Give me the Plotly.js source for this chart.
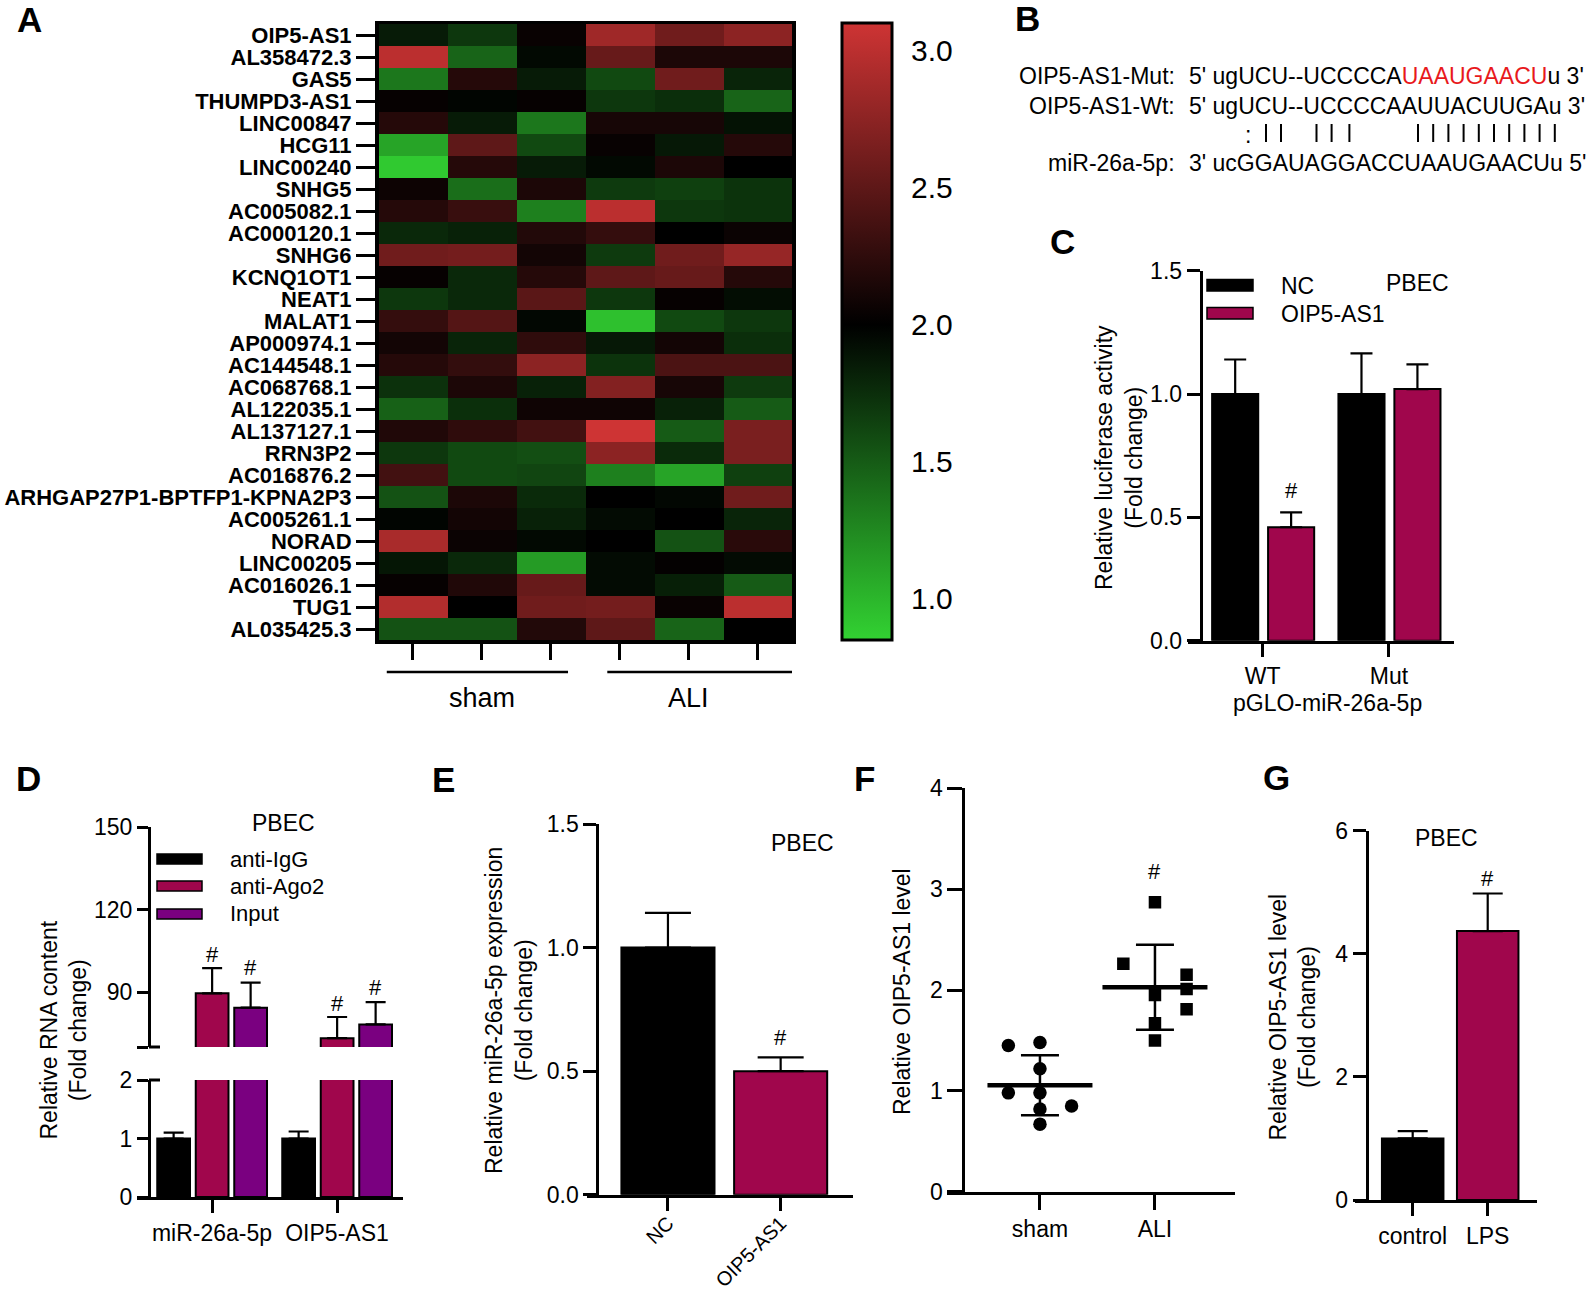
<!DOCTYPE html>
<html><head><meta charset="utf-8">
<script src="https://cdn.plot.ly/plotly-3.0.1.min.js"></script>
<style>body{margin:0;background:#fff}#chart{width:1594px;height:1300px}</style>
</head><body><div id="chart"></div>
<script>
// ---------------- DATA ----------------
// Panel A: lncRNA expression heatmap (rows top -> bottom)
const genes = ['OIP5-AS1','AL358472.3','GAS5','THUMPD3-AS1','LINC00847','HCG11','LINC00240','SNHG5',
 'AC005082.1','AC000120.1','SNHG6','KCNQ1OT1','NEAT1','MALAT1','AP000974.1','AC144548.1','AC068768.1',
 'AL122035.1','AL137127.1','RRN3P2','AC016876.2','ARHGAP27P1-BPTFP1-KPNA2P3','AC005261.1','NORAD',
 'LINC00205','AC016026.1','TUG1','AL035425.3'];
const sham1 = [1.85,3.00,1.35,2.03,2.20,1.10,0.90,2.07,2.20,1.78,2.60,2.03,1.70,2.28,2.10,2.20,1.73,1.47,2.17,1.70,2.35,1.55,1.97,2.90,1.88,2.03,2.95,1.55];
const sham2 = [1.70,1.45,2.20,1.97,1.85,2.50,2.20,1.40,2.30,1.82,2.62,1.78,1.78,2.45,1.80,2.27,2.15,1.74,2.25,1.60,1.60,2.15,2.10,2.06,1.78,2.17,2.00,1.55];
const sham3 = [2.05,1.95,1.85,2.03,1.35,1.60,1.85,2.15,1.30,2.18,2.10,2.20,2.48,1.96,2.25,2.75,1.82,2.08,2.35,1.57,1.62,1.77,1.82,1.95,1.15,2.55,2.60,2.18];
const ali1  = [2.85,2.55,1.60,1.70,2.12,2.04,1.95,1.68,3.00,2.28,1.68,2.50,1.70,0.95,1.87,1.72,2.70,2.08,3.10,2.75,1.30,2.00,1.94,2.00,1.94,1.94,2.62,2.50];
const ali2  = [2.60,2.15,2.60,1.75,2.12,1.87,2.15,1.65,1.70,2.00,2.60,2.55,2.03,1.60,2.10,2.40,2.12,1.82,1.50,1.77,1.10,1.96,2.00,1.55,2.02,1.83,2.05,1.45];
const ali3  = [2.75,2.15,1.80,1.45,1.90,2.20,2.00,1.72,1.72,2.06,2.80,2.20,1.93,1.70,1.75,2.40,1.68,1.50,2.65,2.65,1.65,2.60,1.80,2.22,1.94,1.50,3.00,2.00];
const heatGroups = ['sham','ALI'];
const heatTicks = [1.0,1.5,2.0,2.5,3.0];

// Panel C: luciferase
const cCats = ['WT','Mut'];
const cNC = [1.00,1.00],   cNCerr = [0.14,0.165];
const cOIP = [0.46,1.02],  cOIPerr = [0.06,0.10];

// Panel D: RIP
const dCats = ['miR-26a-5p','OIP5-AS1'];
const dIgG = [1.0,1.0],     dIgGerr = [0.10,0.12];
const dAgo2 = [89.5,73.2],  dAgo2err = [9.2,7.7];
const dInput = [84.3,78.2], dInputerr = [9.1,8.1];

// Panel E
const eCats = ['NC','OIP5-AS1'];
const eVals = [1.00,0.50], eErr = [0.14,0.056];

// Panel F: dot plot
const fCats = ['sham','ALI'];
const fSham = [1.45,1.48,1.22,0.98,0.98,0.85,0.82,0.67];
const fShamSlot = [-1,0,0,-1,0,1,0,0];
const fAli = [2.87,2.26,2.15,2.01,1.95,1.81,1.67,1.50];
const fAliSlot = [0,-1,1,1,0,1,0,0];

// Panel G
const gCats = ['control','LPS'];
const gVals = [1.00,4.37], gErr = [0.12,0.61];

// ---------------- LAYOUT HELPERS ----------------
const W = 1594, H = 1300;
const FONT = 'Liberation Sans, Arial, Helvetica, sans-serif';
const NARROW = 'Liberation Sans Narrow, Arial Narrow, Liberation Sans, Arial, sans-serif';
const CRIMSON = '#a0064c', PURPLE = '#7a0080';
const px = x => x / W, py = y => 1 - y / H;
const xdom = (a, b) => [a / W, b / W];
const ydom = (top, bot) => [1 - bot / H, 1 - top / H];

const axBase = {
  showline: true, linewidth: 3, linecolor: 'black', ticks: 'outside', ticklen: 13, tickwidth: 3,
  tickcolor: 'black', showgrid: false, zeroline: false, fixedrange: true, automargin: false,
  tickfont: {family: FONT, size: 23, color: 'black'}
};
const ax = o => Object.assign({}, axBase, o);

function ann(text, x, y, o = {}) {
  const f = Object.assign({family: FONT, size: 23, color: 'black'}, o.font || {});
  const a = Object.assign({xref: 'paper', yref: 'paper', x: px(x), y: py(y), text: text, showarrow: false,
    xanchor: 'center', yanchor: 'middle'}, o);
  a.font = f;
  return a;
}
function dataAnn(text, xa, ya, x, y, yshift, size) {
  return {xref: xa, yref: ya, x: x, y: y, text: text, showarrow: false, xanchor: 'center', yanchor: 'middle',
    yshift: yshift, font: {family: FONT, size: size || 22, color: 'black'}};
}
function rect(x0, y0, x1, y1, fill) {
  return {type: 'rect', xref: 'paper', yref: 'paper', x0: px(x0), x1: px(x1), y0: py(y0), y1: py(y1),
    fillcolor: fill, line: {color: 'black', width: 1.5}};
}
function hline(x0, x1, y, w) {
  return {type: 'line', xref: 'paper', yref: 'paper', x0: px(x0), x1: px(x1), y0: py(y), y1: py(y),
    line: {color: 'black', width: w || 3}};
}
function bar(name, xs, ys, errs, color, xa, ya, offset, width, cap) {
  return {type: 'bar', name: name, x: xs, y: ys, xaxis: xa, yaxis: ya, offset: offset, width: width,
    marker: {color: color, line: {color: 'black', width: 2}},
    error_y: {type: 'data', symmetric: false, array: errs, arrayminus: errs.map(() => 0),
      color: 'black', thickness: 2.2, width: cap || 11},
    showlegend: false, hoverinfo: 'skip', cliponaxis: true};
}

const traces = [];
const shapes = [];
const annotations = [];

// ---------------- PANEL A: HEATMAP ----------------
const z = genes.map((g, i) => [sham1[i], sham2[i], sham3[i], ali1[i], ali2[i], ali3[i]]);
traces.push({
  type: 'heatmap', z: z, x: [0,1,2,3,4,5], y: genes, xaxis: 'x', yaxis: 'y', zmin: 0.85, zmax: 3.1,
  colorscale: [[0, 'rgb(50,210,50)'], [0.511, 'rgb(0,0,0)'], [1, 'rgb(206,52,52)']],
  hoverinfo: 'skip', xgap: 0, ygap: 0,
  colorbar: {x: px(842), xref: 'paper', xanchor: 'left', y: py(23), yref: 'paper', yanchor: 'top',
    len: 617, lenmode: 'pixels', thickness: 50, thicknessmode: 'pixels', outlinewidth: 3, outlinecolor: 'black',
    xpad: 0, ypad: 0, tickvals: heatTicks, ticktext: heatTicks.map(v => v.toFixed(1)),
    ticks: 'outside', ticklen: 12, tickwidth: 1, tickcolor: 'rgba(0,0,0,0)',
    tickfont: {family: FONT, size: 30, color: 'black'}}
});
// inner colourbar tick marks on both edges
heatTicks.forEach(v => {
  const yy = 23 + (3.1 - v) / (3.1 - 0.85) * 617;
  [[843, 852], [882, 891]].forEach(([a, b]) =>
    shapes.push({type: 'line', xref: 'paper', yref: 'paper', x0: px(a), x1: px(b), y0: py(yy), y1: py(yy),
      line: {color: 'black', width: 3}}));
});
// group bars under heatmap
shapes.push({type: 'line', xref: 'x', yref: 'paper', x0: -0.38, x1: 2.25, y0: py(672), y1: py(672), line: {color: 'black', width: 2.5}});
shapes.push({type: 'line', xref: 'x', yref: 'paper', x0: 2.82, x1: 5.6, y0: py(672), y1: py(672), line: {color: 'black', width: 2.5}});
annotations.push({xref: 'x', yref: 'paper', x: 1, y: py(698), text: heatGroups[0], showarrow: false,
  font: {family: FONT, size: 27, color: 'black'}, xanchor: 'center', yanchor: 'middle'});
annotations.push({xref: 'x', yref: 'paper', x: 4, y: py(698), text: heatGroups[1], showarrow: false,
  font: {family: FONT, size: 27, color: 'black'}, xanchor: 'center', yanchor: 'middle'});

// ---------------- PANEL B: sequences ----------------
const bFont = {size: 23};
annotations.push(ann('OIP5-AS1-Mut:', 1177, 76, {xanchor: 'right', font: bFont}));
annotations.push(ann('OIP5-AS1-Wt:', 1177, 106, {xanchor: 'right', font: bFont}));
annotations.push(ann('miR-26a-5p:', 1177, 163, {xanchor: 'right', font: bFont}));
annotations.push(ann("5' ugUCU--UCCCCA<span style=\"color:#e8191c\">UAAUGAACU</span>u 3'", 1187, 76, {xanchor: 'left', font: bFont}));
annotations.push(ann("5' ugUCU--UCCCCAAUUACUUGAu 3'", 1187, 106, {xanchor: 'left', font: bFont}));
annotations.push(ann("3' ucGGAUAGGACCUAAUGAACUu 5'", 1187, 163, {xanchor: 'left', font: bFont}));
annotations.push(ann(':', 1248, 135, {font: bFont}));
const pairX = [1266, 1281, 1316.5, 1331.6, 1349.4];
for (let i = 0; i < 10; i++) pairX.push(1418 + i * 15.2);
pairX.forEach(x => shapes.push({type: 'line', xref: 'paper', yref: 'paper', x0: px(x), x1: px(x),
  y0: py(124), y1: py(142), line: {color: 'black', width: 2}}));

// ---------------- PANEL C ----------------
traces.push(bar('NC', cCats, cNC, cNCerr, 'black', 'x2', 'y2', -0.40, 0.365));
traces.push(bar('OIP5-AS1', cCats, cOIP, cOIPerr, CRIMSON, 'x2', 'y2', 0.043, 0.365));
annotations.push(dataAnn('#', 'x2', 'y2', 0.2255, cOIP[0] + cOIPerr[0], 22));
shapes.push(rect(1207, 279.5, 1253, 291, 'black'));
shapes.push(rect(1207, 307.5, 1253, 319, CRIMSON));
annotations.push(ann('NC', 1279, 286, {xanchor: 'left'}));
annotations.push(ann('OIP5-AS1', 1279, 314, {xanchor: 'left'}));
annotations.push(ann('PBEC', 1417, 283, {font: {family: NARROW, size: 23}}));
annotations.push(ann('Relative luciferase activity<br>(Fold change)', 1119, 458, {textangle: -90}));
annotations.push(ann('pGLO-miR-26a-5p', 1327, 703));

// ---------------- PANEL D ----------------
const dOff = [-0.438, -0.13, 0.178], dW = 0.262;
['y3', 'y4'].forEach(ya => {
  traces.push(bar('anti-IgG', dCats, dIgG, dIgGerr, 'black', 'x3', ya, dOff[0], dW, 10));
  traces.push(bar('anti-Ago2', dCats, dAgo2, dAgo2err, CRIMSON, 'x3', ya, dOff[1], dW, 10));
  traces.push(bar('Input', dCats, dInput, dInputerr, PURPLE, 'x3', ya, dOff[2], dW, 10));
});
[0, 1].forEach(i => {
  annotations.push(dataAnn('#', 'x3', 'y4', i + dOff[1] + dW / 2, dAgo2[i] + dAgo2err[i], 14));
  annotations.push(dataAnn('#', 'x3', 'y4', i + dOff[2] + dW / 2, dInput[i] + dInputerr[i], 15));
});
shapes.push(hline(149, 160, 1047, 3));
shapes.push(hline(149, 160, 1080, 3));
shapes.push(rect(157, 854, 202, 864, 'black'));
shapes.push(rect(157, 881, 202, 891, CRIMSON));
shapes.push(rect(157, 909, 202, 919, PURPLE));
annotations.push(ann('anti-IgG', 228, 859, {xanchor: 'left', font: {size: 22}}));
annotations.push(ann('anti-Ago2', 228, 886, {xanchor: 'left', font: {size: 22}}));
annotations.push(ann('Input', 228, 913, {xanchor: 'left', font: {size: 22}}));
annotations.push(ann('PBEC', 283, 823, {font: {family: NARROW, size: 23}}));
annotations.push(ann('Relative RNA content<br>(Fold change)', 63.5, 1030, {textangle: -90}));

// ---------------- PANEL E ----------------
traces.push({type: 'bar', name: 'miR-26a-5p', x: eCats, y: eVals, xaxis: 'x5', yaxis: 'y5', offset: -0.413, width: 0.826,
  marker: {color: ['black', CRIMSON], line: {color: 'black', width: 2}},
  error_y: {type: 'data', symmetric: false, array: eErr, arrayminus: eErr.map(() => 0), color: 'black', thickness: 2.2, width: 23},
  showlegend: false, hoverinfo: 'skip'});
annotations.push(dataAnn('#', 'x5', 'y5', 1, eVals[1] + eErr[1], 20));
annotations.push(ann('PBEC', 802, 843, {font: {family: NARROW, size: 23}}));
annotations.push(ann('Relative miR-26a-5p expression<br>(Fold change)', 509, 1011, {textangle: -90}));

// ---------------- PANEL F ----------------
const mean = a => a.reduce((s, v) => s + v, 0) / a.length;
const sd = a => { const m = mean(a); return Math.sqrt(a.reduce((s, v) => s + (v - m) * (v - m), 0) / (a.length - 1)); };
const SLOT = 0.275;
traces.push({type: 'scatter', mode: 'markers', x: [0, 1], y: [mean(fSham), mean(fAli)], xaxis: 'x6', yaxis: 'y6',
  marker: {symbol: 'line-ew-open', size: 75, color: 'black', line: {color: 'black', width: 4.5}},
  error_y: {type: 'data', array: [sd(fSham), sd(fAli)], color: 'black', thickness: 2.5, width: 19},
  showlegend: false, hoverinfo: 'skip', cliponaxis: false});
traces.push({type: 'scatter', mode: 'markers', name: 'sham', x: fShamSlot.map(s => 0 + s * SLOT), y: fSham,
  xaxis: 'x6', yaxis: 'y6', marker: {symbol: 'circle', size: 13.5, color: 'black'}, showlegend: false, hoverinfo: 'skip'});
traces.push({type: 'scatter', mode: 'markers', name: 'ALI', x: fAliSlot.map(s => 1 + s * SLOT), y: fAli,
  xaxis: 'x6', yaxis: 'y6', marker: {symbol: 'square', size: 12.5, color: 'black'}, showlegend: false, hoverinfo: 'skip'});
annotations.push(dataAnn('#', 'x6', 'y6', 1, Math.max(...fAli), 31));
annotations.push(ann('Relative OIP5-AS1 level', 902, 991, {textangle: -90}));

// ---------------- PANEL G ----------------
traces.push({type: 'bar', name: 'OIP5-AS1', x: gCats, y: gVals, xaxis: 'x7', yaxis: 'y7', offset: -0.41, width: 0.82,
  marker: {color: ['black', CRIMSON], line: {color: 'black', width: 2}},
  error_y: {type: 'data', symmetric: false, array: gErr, arrayminus: gErr.map(() => 0), color: 'black', thickness: 2.2, width: 15},
  showlegend: false, hoverinfo: 'skip'});
annotations.push(dataAnn('#', 'x7', 'y7', 1, gVals[1] + gErr[1], 15));
annotations.push(ann('PBEC', 1446, 838, {font: {family: NARROW, size: 23}}));
annotations.push(ann('Relative OIP5-AS1 level<br>(Fold change)', 1292.5, 1017, {textangle: -90}));

// ---------------- PANEL LETTERS ----------------
const letterFont = {family: FONT, size: 35, weight: 'bold'};
[['A', 30, 20], ['B', 1027, 19], ['C', 1062, 242], ['D', 28, 778], ['E', 443, 779], ['F', 864, 778], ['G', 1276, 777]]
  .forEach(([t, x, y]) => annotations.push(ann(t, x, y, {font: letterFont})));

// ---------------- LAYOUT ----------------
const layout = {
  width: W, height: H, margin: {l: 0, r: 0, t: 0, b: 0}, paper_bgcolor: 'white', plot_bgcolor: 'rgba(0,0,0,0)',
  showlegend: false, hovermode: false, barmode: 'overlay', font: {family: FONT, color: 'black'},
  // A
  xaxis: ax({domain: xdom(378.5, 792), anchor: 'y', range: [-0.5, 5.5], tickvals: [0,1,2,3,4,5], ticktext: ['','','','','',''],
    ticklen: 16, mirror: true, linewidth: 3.5}),
  yaxis: ax({domain: ydom(24, 640), anchor: 'x', type: 'category', autorange: 'reversed', ticklen: 19, mirror: true, linewidth: 3.5,
    tickmode: 'array', tickvals: genes, ticktext: genes,
    tickfont: {family: FONT, size: 22, weight: 'bold', color: 'black'}}),
  // C
  xaxis2: ax({domain: xdom(1188, 1454), anchor: 'y2', type: 'category', range: [-0.591, 1.515]}),
  yaxis2: ax({domain: ydom(270.7, 640.7), anchor: 'free', position: px(1200.7), range: [0, 1.5],
    tickvals: [0, 0.5, 1, 1.5], ticktext: ['0.0', '0.5', '1.0', '1.5']}),
  // D
  xaxis3: ax({domain: xdom(137, 403), anchor: 'y3', type: 'category', range: [-0.6, 1.528]}),
  yaxis3: ax({domain: ydom(1080, 1197), anchor: 'free', position: px(149), range: [0, 2], tickvals: [0, 1, 2], ticklen: 11}),
  yaxis4: ax({domain: ydom(827, 1047), anchor: 'free', position: px(149), range: [70, 150],
    tickvals: [70, 90, 120, 150], ticktext: ['', '90', '120', '150'], ticklen: 11}),
  // E
  xaxis5: ax({domain: xdom(586.7, 853), anchor: 'y5', type: 'category', range: [-0.721, 1.642], tickangle: -45,
    ticklabelstandoff: -7, tickfont: {family: FONT, size: 20, color: 'black'}}),
  yaxis5: ax({domain: ydom(824, 1194.7), anchor: 'free', position: px(597.3), range: [0, 1.5],
    tickvals: [0, 0.5, 1, 1.5], ticktext: ['0.0', '0.5', '1.0', '1.5']}),
  // F
  xaxis6: ax({domain: xdom(946.7, 1235), anchor: 'y6', range: [-0.811, 1.696], tickvals: [0, 1], ticktext: fCats, ticklen: 15}),
  yaxis6: ax({domain: ydom(788.3, 1191.7), anchor: 'free', position: px(963.3), range: [0, 4], tickvals: [0,1,2,3,4], ticklen: 15}),
  // G
  xaxis7: ax({domain: xdom(1355, 1536.7), anchor: 'y7', type: 'category', range: [-0.769, 1.653]}),
  yaxis7: ax({domain: ydom(830.7, 1200), anchor: 'free', position: px(1366.7), range: [0, 6], tickvals: [0, 2, 4, 6]}),
  shapes: shapes, annotations: annotations
};

Plotly.newPlot('chart', traces, layout, {displayModeBar: false, staticPlot: true});
</script></body></html>
